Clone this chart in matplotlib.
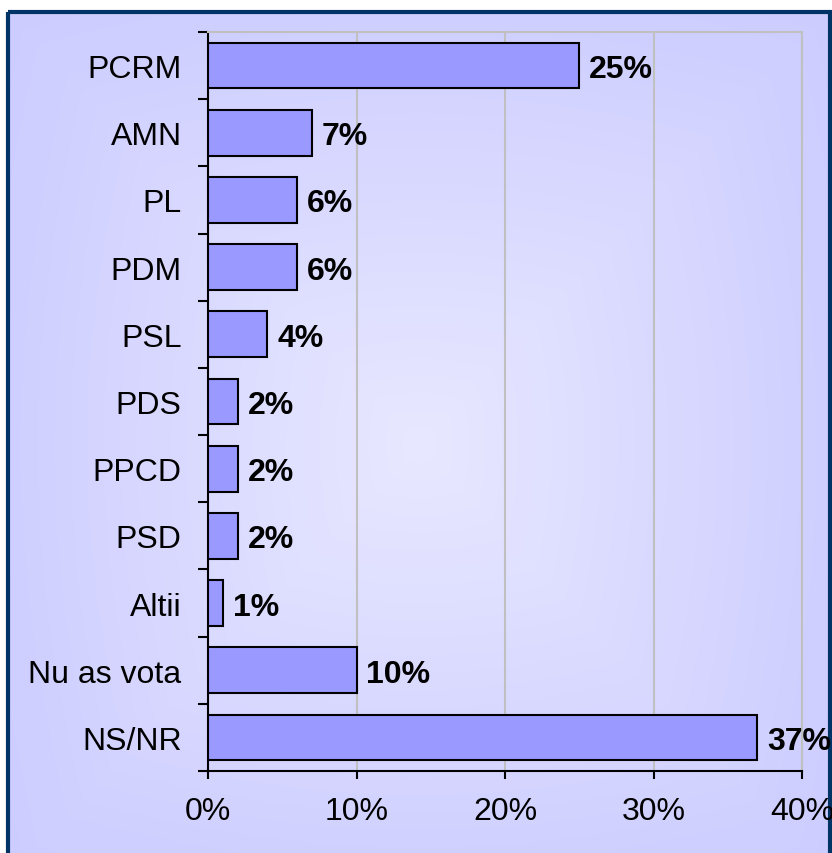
import matplotlib.pyplot as plt
import numpy as np
from matplotlib.patches import Rectangle
from matplotlib.ticker import FuncFormatter

# ======================
# 数据
# ======================
parties = ["PCRM", "AMN", "PL", "PDM", "PSL", "PDS", "PPCD", "PSD",
           "Altii", "Nu as vota", "NS/NR"]
values = [25, 7, 6, 6, 4, 2, 2, 2, 1, 10, 37]
x_ticks = [0, 10, 20, 30, 40]

BAR_COLOR = "#9999FF"
GRID_COLOR = "#C0C0C0"
BORDER_COLOR = "#003366"

plt.rcParams.update({
    "font.family": ["Liberation Sans", "DejaVu Sans"],
    "font.size": 23,
})

W, H = 832, 854
fig = plt.figure(figsize=(W / 100, H / 100), dpi=100)
fig.patch.set_facecolor("white")

# ---- 背景渐变 + 外框 ----
bg = fig.add_axes([0, 0, 1, 1], zorder=-1)
bg.axis("off")
x0, y0, x1, y1 = 8, 13, 830, 880
gx = np.linspace(-1, 1, 300)
gy = np.linspace(-1, 1, 300)
GX, GY = np.meshgrid(gx, gy)
r = np.clip(0.6 * np.maximum(np.abs(GX), np.abs(GY)) + 0.4 * np.hypot(GX, GY) / np.sqrt(2), 0, 1)
edge = np.array([204, 204, 255]) / 255
center = np.array([232, 232, 255]) / 255
img = center[None, None, :] * (1 - r[..., None]) + edge[None, None, :] * r[..., None]
bg.imshow(img, extent=(x0, x1, y1, y0), aspect="auto", interpolation="bilinear")
bg.add_patch(Rectangle((x0, y0), x1 - x0, y1 - y0, fill=False,
                       ec=BORDER_COLOR, lw=3))
# imshow 会改坐标范围，之后再设
bg.set_xlim(0, W)
bg.set_ylim(H, 0)

# ---- 主图 ----
ax = fig.add_axes([208 / W, 82 / H, (802 - 208) / W, (772 - 33) / H])
ax.set_facecolor("none")

y = np.arange(len(parties))
ax.barh(y, values, height=0.68, color=BAR_COLOR, edgecolor="black",
        linewidth=1.5, zorder=3)

for yi, v in zip(y, values):
    ax.annotate(f"{v}%", (v, yi), xytext=(7, 0), textcoords="offset points",
                va="center_baseline", ha="left", fontweight="bold",
                fontsize=23, zorder=4)

ax.set_xlim(0, 40)
ax.set_ylim(len(parties) - 0.5, -0.5)
ax.set_xticks(x_ticks)
ax.xaxis.set_major_formatter(FuncFormatter(lambda v, p: f"{v:.0f}%"))
ax.set_yticks(y)
ax.set_yticklabels(parties)
ax.set_yticks(np.arange(-0.5, len(parties)), minor=True)

ax.tick_params(axis="y", which="major", length=0, pad=19)
ax.tick_params(axis="y", which="minor", length=7, width=1.5, direction="out")
ax.tick_params(axis="x", which="major", length=6, width=1.5, direction="out", pad=12)
for lbl in ax.get_yticklabels():
    lbl.set_verticalalignment("center_baseline")

ax.grid(axis="x", color=GRID_COLOR, linewidth=1.5, zorder=0)
ax.set_axisbelow(True)

for side in ("left", "bottom"):
    ax.spines[side].set_color("black")
    ax.spines[side].set_linewidth(1.5)
for side in ("top", "right"):
    ax.spines[side].set_color(GRID_COLOR)
    ax.spines[side].set_linewidth(1.5)

plt.savefig("out.png", dpi=100)
